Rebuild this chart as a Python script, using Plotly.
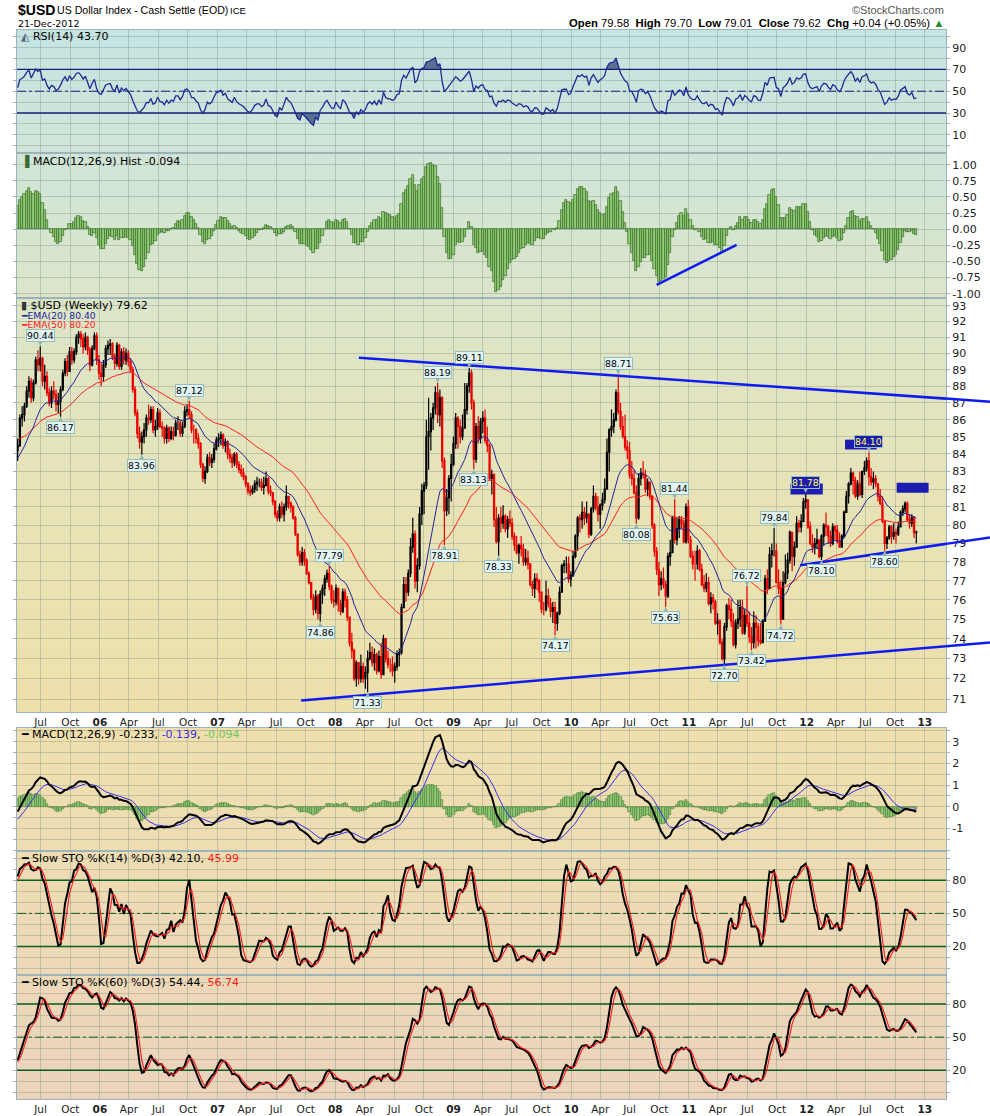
import numpy as np
import pandas as pd
import plotly.graph_objects as go

# ---------------- DATA ----------------
# weekly closes before the visible window (Jan-2004 .. Apr-2005), used only to warm up the indicators
warm_close = [87.0, 85.7, 86.2, 86.8, 87.1, 85.5, 85.3, 86.6, 87.0, 87.8, 88.3, 87.8, 88.2,
              88.5, 89.5, 89.9, 90.9, 90.6, 91.3, 91.8, 90.6, 89.1, 88.9, 88.5, 89.2, 88.5,
              87.6, 87.2, 87.9, 89.2, 89.3, 88.3, 88.7, 88.5, 89.4, 88.8, 89.0, 88.7, 89.3,
              88.4, 87.6, 86.4, 85.6, 85.0, 83.8, 83.4, 83.2, 82.2, 82.2, 82.0, 82.3, 81.9, 81.1,
              82.8, 83.4, 83.4, 82.8, 84.0, 84.4, 83.0, 82.6, 82.0, 81.3, 82.5, 83.7,
              84.7, 83.8, 84.0, 83.9, 84.2]

# weekly bars (high, low, close), one row per month
bars_2005 = [(84.9, 83.6, 84.5), (86.3, 84.4, 86.1), (86.8, 85.6, 86.3), (87.0, 85.9, 86.8),
             (88.0, 86.7, 87.7), (88.6, 87.3, 88.3), (88.5, 87.0, 87.3), (88.4, 87.1, 88.2),
             (89.8, 88.1, 89.6), (90.2, 88.9, 89.3), (90.44, 88.9, 89.7), (89.8, 88.0, 88.3), (89.3, 87.8, 88.6),
             (88.9, 87.4, 87.6), (87.9, 86.8, 87.0), (88.0, 86.7, 87.7), (88.3, 87.2, 87.5),
             (87.8, 86.5, 86.9), (87.6, 86.4, 87.1), (88.0, 86.17, 87.8), (89.0, 87.7, 88.8), (89.7, 88.6, 89.5),
             (89.9, 88.6, 88.9), (90.4, 88.9, 90.1), (90.4, 89.3, 89.6), (90.3, 89.4, 90.1),
             (91.2, 89.9, 91.0), (91.4, 90.6, 91.2), (91.4, 90.4, 90.9), (91.2, 90.0, 90.4),
             (91.3, 90.2, 91.0), (91.1, 89.9, 90.2), (90.4, 88.9, 89.3), (90.5, 89.2, 90.3), (91.3, 90.2, 91.1)]
bars_2006 = [(91.3, 89.3, 89.6), (89.9, 88.4, 88.8), (89.4, 88.0, 88.6), (89.6, 88.3, 89.3),
             (90.5, 89.1, 90.3), (90.8, 89.9, 90.5), (90.9, 89.9, 90.6), (90.7, 89.6, 89.8),
             (90.0, 89.0, 89.4), (90.7, 89.2, 90.5), (90.6, 89.0, 89.2), (90.3, 89.0, 90.1), (90.4, 89.3, 89.6),
             (90.3, 89.3, 90.0), (90.2, 89.2, 89.5), (89.7, 88.8, 89.0), (89.2, 87.6, 87.8),
             (88.0, 86.2, 86.4), (86.6, 84.9, 85.2), (85.6, 84.3, 84.7), (85.3, 83.96, 85.0),
             (85.8, 84.6, 85.4), (86.3, 85.0, 86.1), (86.9, 85.7, 86.0), (86.8, 85.8, 86.6), (86.8, 85.2, 85.4),
             (86.0, 85.0, 85.6), (86.7, 85.4, 86.4), (86.6, 85.5, 85.6), (85.9, 85.0, 85.5),
             (85.6, 84.6, 84.9), (85.7, 84.6, 85.5), (85.6, 84.7, 84.9), (85.6, 84.8, 85.3),
             (85.6, 84.8, 85.1), (86.0, 85.0, 85.8), (86.2, 85.4, 85.8), (86.0, 85.0, 85.2), (85.9, 85.0, 85.6),
             (86.8, 85.5, 86.5), (86.9, 86.2, 86.6), (87.12, 86.1, 86.3), (86.5, 85.2, 85.4),
             (85.7, 84.6, 85.4), (85.5, 84.6, 84.9), (85.2, 84.3, 84.6), (84.7, 83.2, 83.4),
             (83.5, 82.4, 82.6), (83.3, 82.3, 83.0), (84.0, 82.9, 83.8), (84.1, 83.3, 83.5), (84.0, 83.2, 83.7)]
bars_2007 = [(84.6, 83.5, 84.3), (85.0, 84.2, 84.8), (85.2, 84.4, 84.9), (85.3, 84.5, 85.1),
             (85.2, 84.3, 84.5), (84.9, 84.1, 84.7), (84.8, 83.7, 84.0), (84.3, 83.5, 83.8),
             (84.0, 83.2, 83.5), (84.1, 83.3, 84.0), (84.1, 83.2, 83.4), (83.6, 82.9, 83.1), (83.4, 82.7, 82.9),
             (83.2, 82.5, 82.7), (82.8, 82.1, 82.3), (82.4, 81.7, 81.9), (82.2, 81.6, 81.8),
             (82.2, 81.7, 82.0), (82.5, 81.8, 82.3), (82.7, 81.9, 82.4), (82.6, 82.1, 82.4),
             (82.6, 81.9, 82.1), (82.7, 81.7, 82.2), (83.0, 82.3, 82.6), (82.7, 81.7, 81.9), (82.2, 81.6, 81.8),
             (81.8, 81.1, 81.3), (81.4, 80.4, 80.6), (80.8, 80.2, 80.4), (81.2, 80.2, 81.0),
             (81.3, 80.4, 80.6), (81.2, 80.2, 81.0), (82.2, 80.8, 81.6), (81.6, 80.9, 81.2), (81.3, 80.7, 81.0),
             (81.1, 80.3, 80.4), (80.5, 79.4, 79.5), (79.5, 78.3, 78.4), (78.6, 77.8, 78.0),
             (78.8, 77.8, 78.5), (78.7, 77.8, 78.1), (78.2, 77.3, 77.4), (77.5, 76.8, 76.9),
             (76.9, 76.0, 76.1), (76.3, 75.2, 75.5), (76.5, 75.3, 76.2), (76.3, 75.0, 75.3), (76.5, 74.86, 76.3),
             (76.8, 75.8, 76.6), (77.3, 76.2, 77.1), (77.6, 76.9, 77.4), (77.79, 76.5, 76.7)]
bars_2008 = [(76.8, 75.8, 76.0), (76.5, 75.6, 75.9), (76.8, 75.7, 76.6), (76.6, 75.4, 75.8),
             (76.0, 75.2, 75.4), (76.6, 75.3, 76.4), (76.6, 75.6, 76.0), (76.2, 74.9, 75.1), (75.1, 73.6, 73.8),
             (74.3, 73.0, 73.4), (73.5, 71.9, 72.0), (72.9, 71.6, 72.8), (72.8, 71.7, 72.0),
             (73.2, 71.8, 72.6), (72.8, 71.8, 72.0), (72.6, 71.5, 72.3), (73.4, 71.33, 73.0),
             (73.8, 72.9, 73.3), (73.6, 72.6, 72.8), (73.5, 72.4, 73.2), (73.3, 72.2, 72.4), (73.4, 72.3, 73.1),
             (73.8, 72.0, 72.2), (74.2, 72.6, 74.0), (74.0, 72.8, 73.0), (73.4, 72.5, 72.7),
             (73.0, 72.3, 72.7), (73.1, 72.1, 72.4), (72.8, 71.8, 72.6), (73.4, 72.4, 73.2),
             (73.5, 72.6, 73.3), (75.8, 73.2, 75.6), (77.2, 75.6, 76.8), (77.2, 75.9, 76.4), (77.6, 76.2, 77.4),
             (79.3, 77.2, 78.8), (80.4, 78.5, 79.5), (79.7, 76.6, 77.0), (78.2, 76.4, 77.8),
             (81.0, 77.6, 80.6), (82.3, 80.0, 81.9), (82.4, 80.6, 82.2), (86.0, 82.0, 85.0), (87.3, 83.1, 85.3),
             (86.4, 84.2, 86.1), (87.0, 85.4, 86.7), (88.0, 86.3, 87.6), (88.19, 85.8, 86.3),
             (87.8, 85.6, 87.3), (87.4, 83.2, 83.6), (83.8, 78.91, 80.8), (82.0, 80.5, 81.5)]
bars_2009 = [(82.8, 80.6, 82.6), (84.0, 81.3, 83.4), (85.0, 83.3, 84.6), (86.4, 84.3, 86.1), (86.2, 84.3, 85.6),
             (86.0, 84.6, 85.0), (86.3, 84.8, 85.5), (88.2, 85.5, 86.6), (88.2, 86.3, 88.0),
             (89.11, 87.6, 88.8), (89.0, 86.6, 87.0), (87.2, 83.13, 83.7), (85.8, 83.5, 85.6),
             (86.2, 84.6, 84.9), (86.1, 84.6, 85.9), (86.5, 85.2, 86.1), (86.6, 84.6, 84.8),
             (85.6, 84.1, 84.5), (84.6, 82.5, 82.6), (83.1, 81.7, 82.8), (82.9, 79.9, 80.3), (81.0, 79.0, 79.1),
             (80.6, 78.33, 80.4), (81.0, 79.6, 80.1), (81.1, 79.8, 80.5), (80.6, 79.6, 79.8),
             (80.5, 79.3, 80.3), (80.8, 79.9, 80.1), (80.4, 79.2, 79.4), (79.6, 78.6, 78.9), (79.4, 78.4, 78.5),
             (79.0, 77.9, 78.9), (79.4, 78.3, 78.7), (79.0, 77.8, 78.0), (78.7, 77.8, 78.2),
             (78.6, 77.6, 77.9), (77.9, 76.7, 76.8), (77.0, 76.2, 76.6), (77.4, 76.1, 77.1),
             (77.4, 76.5, 77.0), (77.1, 75.9, 76.4), (76.4, 75.3, 75.5), (75.9, 75.2, 75.5), (77.0, 75.4, 76.2),
             (76.6, 75.6, 75.8), (76.1, 75.1, 75.4), (75.9, 74.8, 75.6), (75.9, 74.17, 74.8),
             (75.4, 74.4, 75.3), (76.7, 75.2, 76.4), (77.9, 76.4, 77.8), (78.1, 77.4, 77.9)]
bars_2010 = [(78.3, 77.4, 77.9), (78.3, 76.9, 77.1), (77.5, 76.7, 77.3), (78.6, 77.2, 78.3), (79.5, 78.2, 79.4),
             (80.5, 78.6, 80.4), (80.6, 79.6, 80.3), (81.3, 79.8, 80.7), (81.0, 80.0, 80.4),
             (81.3, 80.1, 80.6), (80.6, 79.3, 79.5), (81.0, 79.4, 80.9), (82.2, 80.7, 81.6),
             (81.8, 80.8, 81.0), (81.6, 80.2, 80.6), (81.2, 79.8, 81.1), (81.8, 80.8, 81.4), (82.6, 81.2, 82.0),
             (84.9, 82.0, 84.1), (85.5, 83.0, 85.4), (86.6, 85.0, 85.6), (86.4, 85.2, 86.0),
             (87.8, 85.9, 87.6), (88.71, 86.3, 86.5), (87.0, 85.4, 85.6), (86.2, 84.9, 85.0),
             (86.3, 84.2, 84.4), (84.8, 83.7, 84.2), (84.7, 82.6, 82.8), (83.6, 82.2, 82.6), (83.1, 81.7, 81.8),
             (82.2, 80.08, 80.4), (82.9, 80.3, 82.6), (83.2, 82.2, 82.9), (83.6, 82.6, 82.8),
             (83.1, 81.8, 82.0), (82.6, 81.6, 82.4), (82.4, 81.4, 81.6), (81.6, 79.8, 80.0),
             (80.1, 78.3, 78.6), (78.8, 77.3, 77.6), (78.0, 76.2, 76.8), (77.5, 76.5, 77.1), (77.7, 76.6, 76.8),
             (77.0, 75.63, 76.2), (78.5, 76.1, 78.3), (79.2, 77.8, 78.5), (80.5, 78.6, 80.4),
             (81.44, 79.0, 79.2), (80.4, 78.9, 79.8), (80.5, 79.3, 80.3), (80.5, 79.8, 80.1), (80.3, 79.0, 79.1)]
bars_2011 = [(81.2, 79.0, 81.0), (81.4, 79.0, 79.2), (79.4, 78.2, 78.3), (78.6, 77.6, 77.9),
             (78.6, 77.0, 77.9), (78.9, 77.6, 78.6), (78.7, 77.5, 77.6), (77.9, 76.7, 76.8),
             (77.3, 76.4, 76.6), (77.4, 76.4, 76.9), (77.2, 75.7, 75.8), (76.4, 75.3, 76.1),
             (76.3, 75.5, 75.9), (76.0, 74.7, 74.8), (75.3, 74.2, 74.9), (75.0, 73.7, 73.8), (74.0, 72.9, 73.0),
             (74.8, 72.70, 74.6), (75.8, 74.4, 75.7), (76.1, 75.0, 75.5), (76.0, 74.6, 74.9),
             (75.3, 73.6, 73.7), (75.0, 73.5, 74.8), (76.0, 74.5, 75.0), (76.0, 74.6, 75.6),
             (76.0, 74.2, 74.3), (75.5, 74.2, 75.2), (76.72, 74.6, 74.8), (75.4, 73.8, 74.1), (74.6, 73.42, 73.8),
             (75.4, 73.5, 74.8), (75.2, 73.5, 74.6), (74.8, 73.6, 73.9), (74.8, 73.7, 73.8),
             (75.0, 73.8, 74.9), (77.3, 74.9, 77.1), (77.6, 76.3, 76.6), (78.8, 76.7, 78.4), (79.0, 77.7, 78.6),
             (79.84, 78.3, 78.6), (79.0, 76.9, 76.9), (77.6, 76.3, 76.6), (77.0, 74.72, 75.0),
             (77.5, 75.0, 76.9), (78.4, 76.8, 77.4), (78.5, 77.1, 78.1), (79.7, 77.9, 79.6),
             (79.6, 77.5, 78.3), (79.1, 77.8, 78.8), (80.5, 78.8, 80.1), (80.3, 79.6, 79.9), (80.6, 79.6, 80.2)]
bars_2012 = [(81.5, 80.2, 81.3), (81.78, 80.9, 81.4), (81.2, 79.8, 79.9), (80.2, 78.9, 79.0),
             (79.5, 78.5, 78.8), (79.3, 78.4, 79.0), (79.8, 78.7, 79.2), (79.2, 78.2, 78.3),
             (79.5, 78.10, 79.4), (80.1, 78.9, 80.0), (80.7, 79.4, 79.9), (80.0, 79.0, 79.4), (79.7, 78.8, 79.0),
             (80.1, 78.9, 79.9), (80.0, 79.2, 79.7), (80.0, 79.0, 79.1), (79.6, 78.8, 78.8),
             (79.5, 78.9, 79.4), (80.8, 79.3, 80.7), (81.9, 80.7, 81.6), (82.4, 81.2, 82.3),
             (83.2, 82.2, 82.9), (83.0, 81.7, 82.5), (82.7, 81.5, 81.6), (82.5, 81.4, 82.3), (83.0, 81.6, 81.7),
             (83.0, 81.5, 83.0), (83.6, 82.8, 83.2), (83.8, 83.0, 83.6), (84.10, 82.2, 82.7),
             (83.2, 82.2, 82.4), (83.0, 82.0, 82.6), (82.8, 82.1, 82.3), (82.3, 81.3, 81.6), (82.0, 81.1, 81.2),
             (81.6, 80.1, 80.2), (80.2, 78.60, 79.0), (79.4, 78.7, 79.3), (80.0, 79.2, 79.9),
             (80.0, 79.0, 79.4), (80.1, 79.2, 79.6), (79.8, 79.0, 79.5), (80.2, 79.4, 79.9),
             (80.8, 79.9, 80.7), (81.1, 80.5, 80.9), (81.3, 80.7, 81.2), (81.3, 80.2, 80.3), (80.6, 79.8, 80.1),
             (80.6, 79.9, 80.4), (80.5, 79.3, 79.58), (79.70, 79.01, 79.62)]

first_week = "2004-01-02"

# price annotations (date of bar, value, +1 above / -1 below)
price_labels = [("2005-07-15", 90.44, 1), ("2005-09-16", 86.17, -1), ("2006-05-26", 83.96, -1),
                ("2006-10-20", 87.12, 1), ("2007-11-30", 74.86, -1), ("2007-12-28", 77.79, 1),
                ("2008-04-25", 71.33, -1), ("2008-11-28", 88.19, 1), ("2008-12-19", 78.91, -1),
                ("2009-03-06", 89.11, 1), ("2009-03-20", 83.13, -1), ("2009-06-05", 78.33, -1),
                ("2009-11-27", 74.17, -1), ("2010-06-11", 88.71, 1), ("2010-08-06", 80.08, -1),
                ("2010-11-05", 75.63, -1), ("2010-12-03", 81.44, 1), ("2011-05-06", 72.70, -1),
                ("2011-07-15", 76.72, 1), ("2011-07-29", 73.42, -1), ("2011-10-07", 79.84, 1),
                ("2011-10-28", 74.72, -1), ("2012-01-13", 81.78, 1), ("2012-03-02", 78.10, -1),
                ("2012-07-27", 84.10, 1), ("2012-09-14", 78.60, -1)]
boxed_labels = [81.78, 84.10]

# user drawn trend lines and highlight boxes
upper_trend = (["2008-03-29", "2013-03-25"], [89.74, 87.25])
lower_trend = (["2007-10-02", "2013-03-25"], [70.93, 73.62])
support_trend = (["2011-12-27", "2013-03-25"], [77.83, 78.98])
hist_trend = (["2010-10-08", "2011-06-13"], [-0.864, -0.243])
boxes = [("2011-11-27", "2012-03-06", 81.69, 82.31),
         ("2012-05-14", "2012-08-20", 84.26, 84.83),
         ("2012-10-21", "2013-01-28", 81.80, 82.36)]

# texts
title_sym = "$USD"
title_name = "US Dollar Index - Cash Settle (EOD)"
title_exch = "ICE"
date_text = "21-Dec-2012"
quote_text = ("<b>Open</b> 79.58  <b>High</b> 79.70  <b>Low</b> 79.01  <b>Close</b> 79.62  "
              "<b>Chg</b> +0.04 (+0.05%) <span style='color:#2e8b2e'>▲</span>")
rsi_text = "RSI(14) 43.70"
hist_text = "MACD(12,26,9) Hist -0.094"
price_text = "$USD (Weekly) 79.62"
ema20_text = "EMA(20) 80.40"
ema50_text = "EMA(50) 80.20"
macd_text = ("MACD(12,26,9) -0.233, <span style='color:#3a2ee8'>-0.139</span>, "
             "<span style='color:#6cc45a'>-0.094</span>")
sto14_text = "Slow STO %K(14) %D(3) 42.10, <span style='color:#ff1a1a'>45.99</span>"
sto60_text = "Slow STO %K(60) %D(3) 54.44, <span style='color:#ff1a1a'>56.74</span>"

# ---------------- INDICATORS ----------------
bars = bars_2005 + bars_2006 + bars_2007 + bars_2008 + bars_2009 + bars_2010 + bars_2011 + bars_2012
high = [b[0] for b in bars]
low = [b[1] for b in bars]
close = [b[2] for b in bars]
nw = len(warm_close)
C = pd.Series(warm_close + close, dtype=float)
H = pd.Series(warm_close + high, dtype=float)
L = pd.Series(warm_close + low, dtype=float)
dates_all = pd.date_range(first_week, periods=len(C), freq="W-FRI")


def ema(s, n):
    return s.ewm(span=n, adjust=False).mean()


ema20 = ema(C, 20)
ema50 = ema(C, 50)
macd = ema(C, 12) - ema(C, 26)
signal = ema(macd, 9)
hist = macd - signal
dlt = C.diff().fillna(0)
ag = dlt.clip(lower=0).ewm(alpha=1 / 14, adjust=False).mean()
al = (-dlt.clip(upper=0)).ewm(alpha=1 / 14, adjust=False).mean()
rsi = 100 - 100 / (1 + ag / al)


def slow_sto(n):
    hh = H.rolling(n, min_periods=1).max()
    ll = L.rolling(n, min_periods=1).min()
    fk = 100 * (C - ll) / (hh - ll)
    k = fk.rolling(3, min_periods=1).mean()
    d = k.rolling(3, min_periods=1).mean()
    return k, d


k14, d14 = slow_sto(14)
k60, d60 = slow_sto(60)

V = slice(nw, None)
x = dates_all[nw:]
opn = C.shift(1)[V].values
hi = H[V].values
lo = L[V].values
cl = C[V].values
n = len(x)

# ---------------- LAYOUT GEOMETRY ----------------
W, HT = 990, 1116
ML, MR, MT, MB = 17, 44, 30, 17
PW, PH = W - ML - MR, HT - MT - MB
panels = {"y": (30, 153), "y2": (153, 298), "y3": (298, 712),
          "y4": (728, 851), "y5": (851, 975), "y6": (975, 1099)}
xr_range = ["2005-05-04", "2013-03-23"]


def py(p):
    return (HT - MB - p) / PH


def px(p):
    return (p - ML) / PW


FONT = "DejaVu Sans, Verdana, sans-serif"
ARIAL = "Liberation Sans, Arial, sans-serif"
GRID = "rgba(110,135,120,0.33)"
BORDER = "#9db3ba"
TREND = "#0f1cf0"

fig = go.Figure()

# RSI
fig.add_trace(go.Scatter(x=x, y=np.full(n, 70.0), xaxis="x2", yaxis="y", mode="lines", line=dict(width=0)))
fig.add_trace(go.Scatter(x=x, y=np.maximum(rsi[V].values, 70), xaxis="x2", yaxis="y", mode="lines",
                         line=dict(width=0), fill="tonexty", fillcolor="#56718f"))
fig.add_trace(go.Scatter(x=x, y=np.full(n, 30.0), xaxis="x2", yaxis="y", mode="lines", line=dict(width=0)))
fig.add_trace(go.Scatter(x=x, y=np.minimum(rsi[V].values, 30), xaxis="x2", yaxis="y", mode="lines",
                         line=dict(width=0), fill="tonexty", fillcolor="#56718f"))

# reference levels drawn as lines across the panels
ref_levels = [("x2", "y", 70, "#16207a", "solid", 1.3), ("x2", "y", 30, "#16207a", "solid", 1.3),
              ("x2", "y", 50, "#16207a", "dashdot", 1)]
for ya in ("y5", "y6"):
    ref_levels += [("x", ya, 80, "#0b5e22", "solid", 1.5), ("x", ya, 20, "#0b5e22", "solid", 1.5),
                   ("x", ya, 50, "#0b5e22", "dashdot", 1)]
for xa, ya, v, colr, dash, w in ref_levels:
    fig.add_trace(go.Scatter(x=xr_range, y=[v, v], xaxis=xa, yaxis=ya, mode="lines",
                             line=dict(color=colr, width=w, dash=dash)))

fig.add_trace(go.Scatter(x=x, y=rsi[V], xaxis="x2", yaxis="y", mode="lines",
                         line=dict(color="#1f2a94", width=1.3)))

# MACD histogram panel
fig.add_trace(go.Bar(x=x, y=hist[V], xaxis="x2", yaxis="y2",
                     marker=dict(color="#8fcc72", line=dict(color="#3b6a2c", width=0.7))))
fig.add_trace(go.Scatter(x=hist_trend[0], y=hist_trend[1], xaxis="x2", yaxis="y2", mode="lines",
                         line=dict(color=TREND, width=2.5)))

# price
fig.add_trace(go.Candlestick(x=x, open=opn, high=hi, low=lo, close=cl, xaxis="x2", yaxis="y3",
                             increasing=dict(line=dict(color="#000000", width=1.2), fillcolor="rgba(0,0,0,0)"),
                             decreasing=dict(line=dict(color="#e80000", width=1.2), fillcolor="#e80000"),
                             whiskerwidth=0))
fig.add_trace(go.Scatter(x=x, y=ema50[V], xaxis="x2", yaxis="y3", mode="lines",
                         line=dict(color="#ff2020", width=1)))
fig.add_trace(go.Scatter(x=x, y=ema20[V], xaxis="x2", yaxis="y3", mode="lines",
                         line=dict(color="#23239a", width=1)))
for tr in (upper_trend, lower_trend, support_trend):
    fig.add_trace(go.Scatter(x=tr[0], y=tr[1], xaxis="x2", yaxis="y3", mode="lines",
                             line=dict(color=TREND, width=2.5)))
for d0, d1, p0, p1 in boxes:
    fig.add_trace(go.Scatter(x=[d0, d1, d1, d0, d0], y=[p0, p0, p1, p1, p0], xaxis="x2", yaxis="y3",
                             mode="lines", line=dict(width=0), fill="toself", fillcolor="#1c1cb0"))

# MACD panel
fig.add_trace(go.Bar(x=x, y=hist[V], xaxis="x", yaxis="y4",
                     marker=dict(color="#8fcc72", line=dict(color="#4c7a3a", width=0.6))))
fig.add_trace(go.Scatter(x=x, y=signal[V], xaxis="x", yaxis="y4", mode="lines",
                         line=dict(color="#3a2ee8", width=1)))
fig.add_trace(go.Scatter(x=x, y=macd[V], xaxis="x", yaxis="y4", mode="lines",
                         line=dict(color="#000000", width=2)))

# stochastics
for kk, dd, ya in ((k14, d14, "y5"), (k60, d60, "y6")):
    fig.add_trace(go.Scatter(x=x, y=kk[V], xaxis="x", yaxis=ya, mode="lines",
                             line=dict(color="#000000", width=2)))
    fig.add_trace(go.Scatter(x=x, y=dd[V], xaxis="x", yaxis=ya, mode="lines",
                             line=dict(color="#ff1a1a", width=1.1)))

# ---------------- SHAPES ----------------
shapes = []
stops = [(30, (197, 228, 226)), (153, (208, 229, 216)), (298, (219, 229, 201)), (500, (231, 227, 182)),
         (712, (238, 224, 171)), (728, (239, 223, 174)), (851, (238, 220, 179)), (975, (237, 216, 183)),
         (1099, (235, 211, 188))]


def col_at(p):
    for (a, ca), (b, cb) in zip(stops[:-1], stops[1:]):
        if a <= p <= b:
            t = (p - a) / (b - a) if b > a else 0
            c = [round(ca[i] + (cb[i] - ca[i]) * t) for i in range(3)]
            return "rgb(%d,%d,%d)" % tuple(c)
    return "rgb(%d,%d,%d)" % stops[-1][1]


for top, bot in panels.values():
    p = top
    while p < bot:
        q = min(p + 4, bot)
        shapes.append(dict(type="rect", xref="paper", yref="paper", x0=0, x1=1, y0=py(q), y1=py(p),
                           fillcolor=col_at((p + q) / 2), line=dict(width=0), layer="below"))
        p = q

# trend lines continue past the right edge of the plot, across the axis labels
x_end = pd.Timestamp(xr_range[1])
days_per_px = (x_end - pd.Timestamp(xr_range[0])).days / PW
extra_days = (W - ML - PW) * days_per_px
for tr in (upper_trend, lower_trend, support_trend):
    t0 = pd.Timestamp(tr[0][0])
    slope = (np.log(tr[1][1]) - np.log(tr[1][0])) / (pd.Timestamp(tr[0][1]) - t0).days
    dd0 = (x_end - t0).days
    pa = tr[1][0] * np.exp(slope * dd0)
    pb = tr[1][0] * np.exp(slope * (dd0 + extra_days))
    shapes.append(dict(type="line", xref="paper", yref="y3", x0=1, x1=(W - ML) / PW, y0=pa, y1=pb,
                       line=dict(color=TREND, width=2.5), layer="above"))

# ---------------- ANNOTATIONS ----------------
ann = []


def text(px_x, px_y, s, size=11, color="#000", family=FONT, xanchor="left"):
    ann.append(dict(xref="paper", yref="paper", x=px(px_x), y=py(px_y), text=s, showarrow=False,
                    xanchor=xanchor, yanchor="middle", font=dict(family=family, size=size, color=color)))


text(16, 10.5, "<b>" + title_sym + "</b>", 14, "#000", ARIAL)
text(55, 10.5, title_name, 10.6, "#000", ARIAL)
text(228, 11, title_exch, 9.5, "#000", ARIAL)
text(16, 23.5, date_text, 9.5, "#000", FONT)
text(946, 10.5, "©StockCharts.com", 11, "#555", ARIAL, "right")
text(946, 23.5, quote_text, 11.3, "#000", ARIAL, "right")

text(19, 36.5, "<span style='color:#4a6580'>◭</span> " + rsi_text, 11)
text(19, 160.5, "<span style='color:#3b6a2c'>▐</span> " + hist_text, 11)
text(19, 305.0, "<span style='color:#333'>▮</span> " + price_text, 11)
text(19, 315.3, "━" + ema20_text, 9.2, "#23239a")
text(19, 325.0, "━" + ema50_text, 9.2, "#ff2020")
text(19, 734.7, "━ " + macd_text, 11)
text(19, 858.3, "━ " + sto14_text, 11)
text(19, 982.7, "━ " + sto60_text, 11)

for d, v, side in price_labels:
    boxed = v in boxed_labels
    ann.append(dict(xref="x2", yref="y3", x=d, y=np.log10(v), text="%.2f" % v,
                    showarrow=True, arrowhead=2, arrowsize=1, arrowwidth=1, arrowcolor="#8fb6b6",
                    ax=0, ay=-10.5 * side, standoff=0,
                    xanchor="center", yanchor="middle",
                    font=dict(family=FONT, size=9.3, color="#ffff55" if boxed else "#000"),
                    bgcolor="#1c1cb0" if boxed else "#e2f5f4", bordercolor="#98bdbd",
                    borderwidth=1, borderpad=0))

# ---------------- AXES ----------------
qs = pd.date_range("2005-07-01", "2013-01-01", freq="QS")
tickvals = [d + pd.Timedelta(days=15) for d in qs]
ticktext = [("<b>%02d</b>" % (d.year % 100)) if d.month == 1 else d.strftime("%b") for d in qs]
xcommon = dict(range=xr_range, tickvals=tickvals, ticktext=ticktext, automargin=False,
               showgrid=True, gridcolor=GRID, gridwidth=1, showline=True, linecolor=BORDER, linewidth=1,
               mirror="all", ticks="", tickfont=dict(family=FONT, size=10.5, color="#222"), zeroline=False)
layout = dict(
    width=W, height=HT, margin=dict(l=ML, r=MR, t=MT, b=MB, autoexpand=False), paper_bgcolor="white",
    plot_bgcolor="rgba(0,0,0,0)", showlegend=False, hovermode=False, bargap=0,
    xaxis=dict(anchor="y6", domain=[0, 1], **xcommon),
    xaxis2=dict(anchor="y3", domain=[0, 1], matches="x", rangeslider=dict(visible=False), **xcommon),
    shapes=shapes, annotations=ann,
)


def yax(name, rng, vals, labels, anchor, typ="linear"):
    top, bot = panels[name]
    d = dict(domain=[py(bot), py(top)], range=rng, tickvals=vals, ticktext=labels, anchor=anchor,
             side="right", showgrid=True, gridcolor=GRID, gridwidth=1, zeroline=False, showline=True,
             linecolor=BORDER, linewidth=1, mirror="all", ticks="outside", ticklen=3, tickcolor=BORDER,
             tickfont=dict(family=FONT, size=11, color="#222"), type=typ, fixedrange=True,
             automargin=False)
    layout["yaxis" if name == "y" else "yaxis" + name[1:]] = d


tens = list(range(0, 101, 10))
yax("y", [-6.7, 106.2], tens, [str(v) if v in (10, 30, 50, 70, 90) else "" for v in tens], "x2")
qv = [i / 4 for i in range(-4, 5)]
yax("y2", [-1.067, 1.181], qv, ["%.2f" % v for v in qv], "x2")
pv = list(range(71, 94))
yax("y3", [np.log10(70.37), np.log10(93.49)], pv, [str(v) for v in pv], "x2", "log")
mv = [i / 2 for i in range(-4, 8)]
yax("y4", [-2.04, 3.63], mv, [str(int(v)) if v in (-1, 0, 1, 2, 3) else "" for v in mv], "x")
sl = [str(v) if v in (20, 50, 80) else "" for v in tens]
yax("y5", [-5.8, 106.5], tens, sl, "x")
yax("y6", [-6.1, 106.4], tens, sl, "x")

fig.update_layout(**layout)
fig.write_html("out.html", config={"displayModeBar": False},
               post_script="document.body.style.margin='0';")
